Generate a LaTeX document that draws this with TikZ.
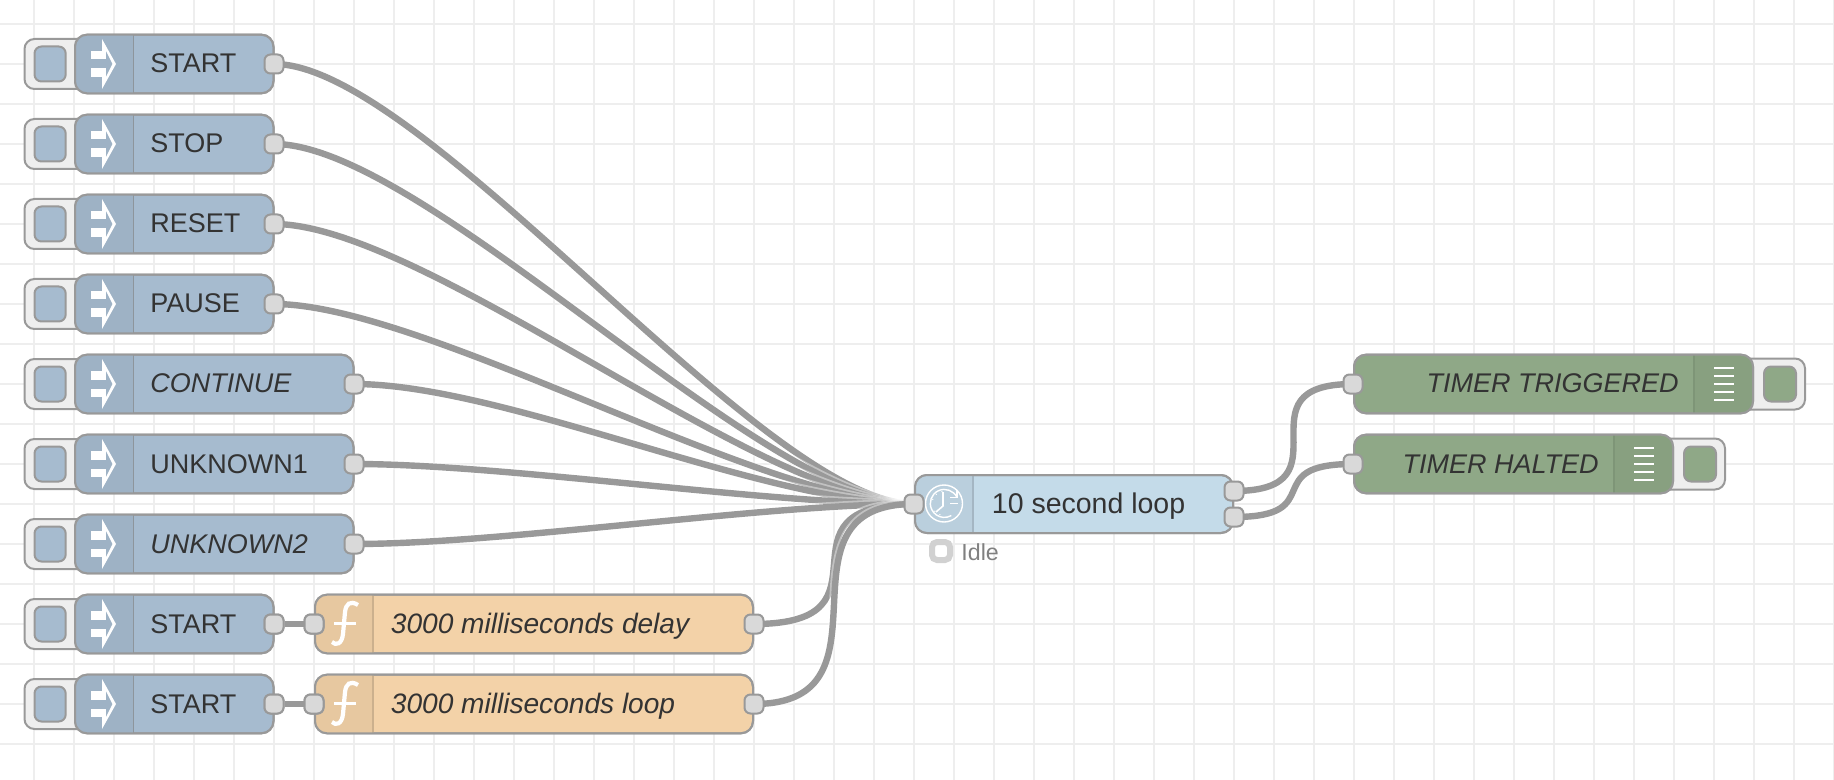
\documentclass[tikz,border=0pt]{standalone}
\usepackage{fontspec}
\setmainfont{Liberation Sans}
\definecolor{gridc}{HTML}{EEEEEE}
\definecolor{edge}{HTML}{999999}
\definecolor{portc}{HTML}{D9D9D9}
\definecolor{injc}{HTML}{A6BBCF}
\definecolor{injd}{HTML}{9EB2C5}
\definecolor{func}{HTML}{F3D2A8}
\definecolor{fund}{HTML}{E7C8A0}
\definecolor{timc}{HTML}{C4DBE9}
\definecolor{timd}{HTML}{BACFDD}
\definecolor{dbgc}{HTML}{8FA887}
\definecolor{dbgd}{HTML}{88A080}
\definecolor{txt}{HTML}{333333}
\tikzset{
  x=0.5pt,y=-0.5pt,
  box/.style={draw=edge,line width=1pt,rounded corners=6pt},
  porta/.style={draw=edge,line width=1pt,fill=portc,rounded corners=3pt,minimum size=9.5pt,inner sep=0pt,shape=rectangle},
  wire/.style={edge,line width=3.2pt},
  wireout/.style={white,opacity=.4,line width=5pt},
  lbl/.style={font=\fontsize{13.5}{16}\selectfont,text=txt,inner sep=0pt,anchor=base west},
  lbi/.style={lbl,font=\fontsize{13.5}{16}\selectfont\itshape},
  lbf/.style={lbl,font=\fontsize{14.05}{16}\selectfont\itshape},
  lbt/.style={lbl,font=\fontsize{14.25}{16}\selectfont},
  lbr/.style={lbi,anchor=base east},
  ico/.style={fill=white,draw=none},
}
% #1 name, #2 y-centre, #3 right edge, #4 label, #5 label style
\newcommand{\injnode}[5]{%
  \filldraw[box,rounded corners=5pt,fill=gridc] (24.5,#2-25) rectangle (96,#2+25);
  \filldraw[box,rounded corners=3.5pt,fill=injc] (34.5,#2-17.5) rectangle (65.7,#2+17.5);
  \filldraw[box,fill=injc] (75,#2-29.3) rectangle (#3-.5,#2+29.3);
  \begin{scope}
    \clip[rounded corners=6pt] (75,#2-29.3) rectangle (#3-.5,#2+29.3);
    \fill[injd] (75,#2-30) rectangle (133.5,#2+30);
  \end{scope}
  \draw[edge!85!black,line width=.6pt,opacity=.6] (133.5,#2-29) -- (133.5,#2+29);
  \draw[box,fill=none] (75,#2-29.3) rectangle (#3-.5,#2+29.3);
  \fill[ico] (102,#2-25) -- (116,#2) -- (102,#2+25) -- (102,#2+13) -- (106,#2+13) -- (112.5,#2) -- (106,#2-13) -- (102,#2-13) -- cycle;
  \fill[ico] (91,#2-13) rectangle (106,#2-4.5);
  \fill[ico] (91,#2+4.5) rectangle (106,#2+13);
  \node[#5] at (150,#2+9) {#4};
  \node[porta] (#1) at (#3,#2) {};
}
% #1 name, #2 y, #3 right, #4 label
\newcommand{\funnode}[4]{%
  \filldraw[box,fill=func] (315,#2-29.3) rectangle (#3-1,#2+29.3);
  \begin{scope}
    \clip[rounded corners=6pt] (315,#2-29.3) rectangle (#3-1,#2+29.3);
    \fill[fund] (315,#2-30) rectangle (373,#2+30);
  \end{scope}
  \draw[fund!88!black,line width=.6pt] (373,#2-29) -- (373,#2+29);
  \draw[box,fill=none] (315,#2-29.3) rectangle (#3-1,#2+29.3);
  \draw[white,line width=2.1pt] (358,#2-19) .. controls (350,#2-24) and (346,#2-20) .. (345,#2-12) -- (343,#2+10) .. controls (342,#2+20) and (336,#2+22) .. (332,#2+18);
  \draw[white,line width=1.8pt] (334,#2-.5) -- (356,#2-.5);
  \node[lbf] at (390.5,#2+9) {#4};
  \node[porta] (#1in) at (314,#2) {};
  \node[porta] (#1) at (#3,#2) {};
}
% #1 name #2 y #3 right #4 label
\newcommand{\dbgnode}[4]{%
  \filldraw[box,rounded corners=5pt,fill=gridc] (#3-20,#2-25.5) rectangle (#3+51,#2+25.5);
  \filldraw[box,rounded corners=3.5pt,fill=dbgc] (#3+10,#2-17.5) rectangle (#3+42,#2+17.5);
  \filldraw[box,fill=dbgc] (1354,#2-29.3) rectangle (#3-1,#2+29.3);
  \begin{scope}
    \clip[rounded corners=6pt] (1354,#2-29.3) rectangle (#3-1,#2+29.3);
    \fill[dbgd] (#3-60,#2-30) rectangle (#3,#2+30);
  \end{scope}
  \draw[dbgd!93!black,line width=.6pt] (#3-60,#2-29) -- (#3-60,#2+29);
  \draw[box,fill=none] (1354,#2-29.3) rectangle (#3-1,#2+29.3);
  \foreach \d in {-16,-8,0,8,16} \fill[white] (#3-40,#2+\d-1.4) rectangle (#3-20,#2+\d+1.4);
  \node[lbr] at (#3-75,#2+9) {#4};
  \node[porta] (#1) at (1353,#2) {};
}
\newcommand{\wirepath}[2]{%
  \draw[wireout] (#1) .. controls ([xshift=75pt]#1) and ([xshift=-75pt]#2) .. (#2);
  \draw[wire] (#1) .. controls ([xshift=75pt]#1) and ([xshift=-75pt]#2) .. (#2);
}
\begin{document}
\begin{tikzpicture}
\useasboundingbox (0,0) rectangle (1834,780);
\fill[white] (0,0) rectangle (1834,780);
\foreach \gx in {34,74,...,1834} \draw[gridc,line width=1pt] (\gx,0) -- (\gx,780);
\foreach \gy in {24,64,...,780} \draw[gridc,line width=1pt] (0,\gy) -- (1834,\gy);

% anchor coordinates for wires
\coordinate (o1) at (274,64); \coordinate (o2) at (274,144); \coordinate (o3) at (274,224);
\coordinate (o4) at (274,304); \coordinate (o5) at (354,384); \coordinate (o6) at (354,464);
\coordinate (o7) at (354,544); \coordinate (o8) at (754,624); \coordinate (o9) at (754,704);
\coordinate (tin) at (914,504);
\coordinate (t1) at (1234,491); \coordinate (t2) at (1234,517);
\coordinate (g1) at (1353,384); \coordinate (g2) at (1353,464);

\wirepath{o1}{tin}\wirepath{o2}{tin}\wirepath{o3}{tin}\wirepath{o4}{tin}
\wirepath{o5}{tin}\wirepath{o6}{tin}\wirepath{o7}{tin}\wirepath{o8}{tin}\wirepath{o9}{tin}
\draw[wireout] (t1) .. controls ([xshift=60pt]t1) and ([xshift=-60pt]g1) .. (g1);
\draw[wire] (t1) .. controls ([xshift=60pt]t1) and ([xshift=-60pt]g1) .. (g1);
\draw[wireout] (t2) .. controls ([xshift=48pt]t2) and ([xshift=-48pt]g2) .. (g2);
\draw[wire] (t2) .. controls ([xshift=48pt]t2) and ([xshift=-48pt]g2) .. (g2);

\injnode{n1}{64}{274}{START}{lbl}
\injnode{n2}{144}{274}{STOP}{lbl}
\injnode{n3}{224}{274}{RESET}{lbl}
\injnode{n4}{304}{274}{PAUSE}{lbl}
\injnode{n5}{384}{354}{CONTINUE}{lbi}
\injnode{n6}{464}{354}{UNKNOWN1}{lbl}
\injnode{n7}{544}{354}{UNKNOWN2}{lbi}
\injnode{n8}{624}{274}{START}{lbl}
\injnode{n9}{704}{274}{START}{lbl}
\funnode{f1}{624}{754}{3000 milliseconds delay}
\funnode{f2}{704}{754}{3000 milliseconds loop}
\draw[wire] (n8) -- (f1in);
\draw[wire] (n9) -- (f2in);
\node[porta] at (n8) {};
\node[porta] at (n9) {};
\node[porta] at (f1in) {};
\node[porta] at (f2in) {};

% timer node
\filldraw[box,fill=timc] (915,475) rectangle (1233,533);
\begin{scope}
  \clip[rounded corners=6pt] (915,475) rectangle (1233,533);
  \fill[timd] (915,474) rectangle (973,534);
\end{scope}
\draw[timd!88!black,line width=.6pt] (973,475) -- (973,533);
\draw[box,fill=none] (915,475) rectangle (1233,533);
\draw[white,line width=.7pt] (944,503.5) circle (18.5);
\draw[white,line width=.7pt] (957,497.5) arc (-25:-300:14);
\draw[white,line width=.7pt] (957,490) -- (957,497.5) -- (950,497.5);
\draw[white,line width=.8pt] (943,492) -- (943,506) -- (936,512);
\draw[white,line width=.7pt] (950,503.5) -- (958,503.5);
\foreach \a in {200,230,260,140,110} \fill[white] (944,503.5) ++(\a:12) circle (.7);
\node[lbt] at (991.5,513) {10 second loop};
\node[porta] (tinp) at (tin) {};
\node[porta] (tp1) at (t1) {};
\node[porta] (tp2) at (t2) {};
% status
\draw[black!18,line width=3pt,fill=white,rounded corners=2.5pt] (932,542) rectangle (950,560);
\node[inner sep=0pt,anchor=base west,font=\fontsize{11.6}{13}\selectfont,text=black!50] at (961,560) {Idle};

\dbgnode{g1p}{384}{1754}{TIMER TRIGGERED}
\dbgnode{g2p}{464}{1674}{TIMER HALTED}
\end{tikzpicture}
\end{document}
